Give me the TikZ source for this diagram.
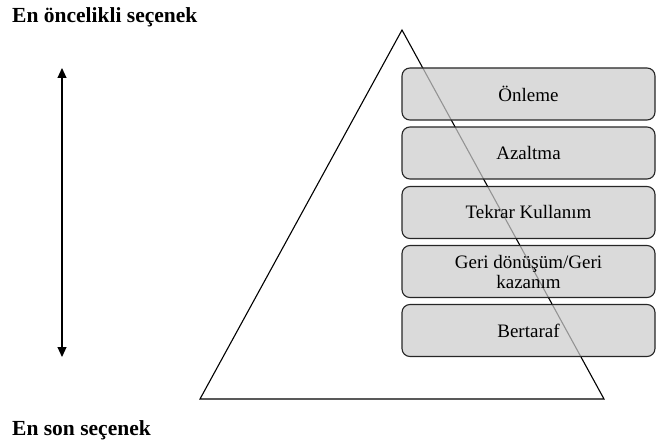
\documentclass[tikz,border=0pt]{standalone}
\usepackage{fontspec}
\setmainfont{Liberation Serif}
\usetikzlibrary{arrows.meta}
\begin{document}
\begin{tikzpicture}[x=1pt,y=-1pt,
  level/.style={draw=black!85, line width=1.1pt, rounded corners=8pt,
    fill=black!20!white, fill opacity=0.72, text opacity=1,
    minimum width=253pt, minimum height=52pt, inner sep=0pt,
    align=center, font=\fontsize{19}{20}\selectfont},
  headline/.style={anchor=base west, inner sep=0pt, font=\fontsize{21.5}{24}\selectfont\bfseries}]
  \useasboundingbox (0,0) rectangle (656,444);
  % the pyramid
  \coordinate (apex) at (402,30);
  \coordinate (bl) at (200,399);
  \coordinate (br) at (604,399);
  \draw[line width=1.1pt, line join=miter] (apex) -- (bl) -- (br) -- cycle;
  % hierarchy levels
  \node[level] (l1) at (528.5,94)  {Önleme};
  \node[level] (l2) at (528.5,153) {Azaltma};
  \node[level] (l3) at (528.5,212.5) {Tekrar Kullanım};
  \node[level] (l4) at (528.5,271.5) {Geri dönüşüm/Geri\\kazanım};
  \node[level] (l5) at (528.5,330.5) {Bertaraf};
  % priority axis
  \coordinate (top) at (62,68);
  \coordinate (bot) at (62,357);
  \draw[line width=1.1pt, {Triangle[length=10pt,width=9pt]}-{Triangle[length=10pt,width=9pt]}] (top) -- (bot);
  % captions
  \node[headline] (hi) at (12,23) {En öncelikli seçenek};
  \node[headline] (lo) at (12,435) {En son seçenek};
\end{tikzpicture}
\end{document}
